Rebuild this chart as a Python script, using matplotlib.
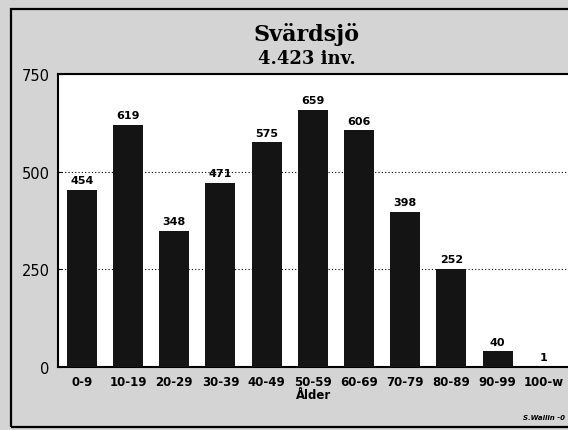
import matplotlib.pyplot as plt
from matplotlib.patches import Rectangle

# Age groups and population counts
age_groups = ['0-9', '10-19', '20-29', '30-39', '40-49', '50-59',
              '60-69', '70-79', '80-89', '90-99', '100-w']
population = [454, 619, 348, 471, 575, 659, 606, 398, 252, 40, 1]
y_ticks = [0, 250, 500, 750]

fig = plt.figure(figsize=(5.68, 4.31), dpi=100)
fig.patch.set_facecolor('#d4d4d4')

# outer frame
fig.patches.append(Rectangle((0.019, 0.006), 1.0, 0.971, transform=fig.transFigure,
                             fill=False, edgecolor='black', linewidth=1.6))

ax = fig.add_axes([0.102, 0.146, 0.9, 0.68])
ax.set_facecolor('white')
x = list(range(len(age_groups)))
bars = ax.bar(x, population, width=0.65, color='#141414', zorder=3)

for xi, v in zip(x, population):
    ax.text(xi, v + 12, str(v), ha='center', va='bottom', fontsize=8,
            fontweight='bold', zorder=4)

ax.set_xlim(-0.52, 10.55)
ax.set_ylim(0, 750)
ax.set_yticks(y_ticks)
ax.set_yticklabels([str(t) for t in y_ticks], fontsize=10.5)
ax.tick_params(axis='y', length=3, direction='in', pad=6)
ax.set_xticks(x)
ax.set_xticklabels(age_groups, fontsize=8.5, fontweight='bold')
ax.tick_params(axis='x', length=0, pad=6)
ax.grid(axis='y', linestyle=(0, (1, 2)), color='black', linewidth=0.8, zorder=1)
for s in ax.spines.values():
    s.set_linewidth(1.5)

ax.set_xlabel('Ålder', fontsize=8.5, fontweight='bold', labelpad=0)

fig.text(0.54, 0.919, 'Svärdsjö', ha='center', va='center', fontsize=16,
         fontweight='bold', family='DejaVu Serif')
fig.text(0.54, 0.863, '4.423 inv.', ha='center', va='center', fontsize=13,
         fontweight='bold', family='DejaVu Serif')
fig.text(0.92, 0.03, 'S.Wallin -0', ha='left', va='center', fontsize=5,
         style='italic', fontweight='bold')

plt.savefig('out.png', dpi=100, facecolor=fig.get_facecolor())
